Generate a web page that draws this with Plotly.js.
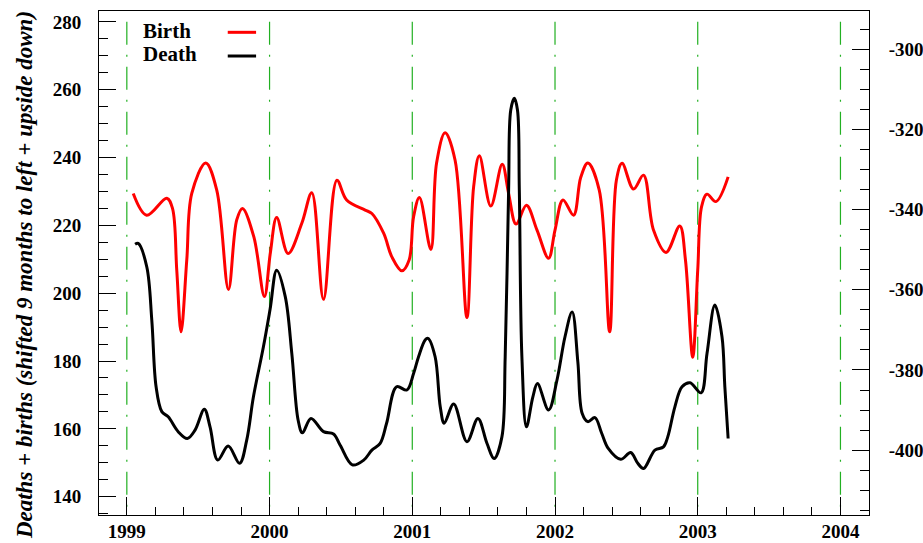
<!DOCTYPE html>
<html>
<head>
<meta charset="utf-8">
<script src="https://cdn.plot.ly/plotly-3.0.1.min.js"></script>
<style>html,body{margin:0;padding:0;background:#fff;}#chart{width:923px;height:543px;}</style>
</head>
<body>
<div id="chart"></div>
<script>
// Birth curve (left axis), x in years
const birthX = [1999.045,1999.139,1999.28,1999.32,1999.35,1999.38,1999.42,1999.455,1999.553,1999.63,1999.712,1999.77,1999.81,1999.89,1999.964,2000.005,2000.05,2000.13,2000.226,2000.296,2000.378,2000.472,2000.54,2000.67,2000.717,2000.80,2000.857,2000.927,2000.978,2001.009,2001.05,2001.13,2001.17,2001.23,2001.30,2001.383,2001.43,2001.47,2001.55,2001.63,2001.675,2001.727,2001.80,2001.874,2001.955,2002.0,2002.056,2002.13,2002.18,2002.23,2002.31,2002.383,2002.43,2002.47,2002.55,2002.62,2002.69,2002.778,2002.874,2002.914,2002.965,2003.0,2003.027,2003.065,2003.127,2003.213];
const birthY = [229.4,223.0,228.0,225.0,206.7,188.6,209.8,229.4,238.4,230.4,201.1,221.6,225.0,216.6,199.0,211.7,222.3,211.7,220.6,229.6,198.2,233.3,227.5,224.5,223.5,217.6,210.7,206.6,209.8,222.5,228.2,212.9,238.3,247.3,239.2,192.8,231.4,240.5,225.7,238.0,229.4,220.4,225.9,218.6,210.3,218.6,227.5,223.0,234.1,238.4,230.4,188.6,233.3,238.3,230.7,234.8,218.6,212.0,219.8,209.8,181.1,206.8,225.5,229.2,227.0,234.3];

// Death curve (right axis, upside down)
const deathX = [1999.058,1999.08,1999.14,1999.175,1999.205,1999.245,1999.29,1999.36,1999.424,1999.478,1999.543,1999.583,1999.637,1999.71,1999.79,1999.84,1999.887,1999.957,2000.004,2000.05,2000.11,2000.156,2000.20,2000.23,2000.29,2000.378,2000.448,2000.495,2000.58,2000.66,2000.717,2000.775,2000.82,2000.89,2000.962,2001.009,2001.044,2001.09,2001.11,2001.16,2001.196,2001.224,2001.29,2001.383,2001.46,2001.523,2001.574,2001.628,2001.651,2001.675,2001.69,2001.715,2001.737,2001.75,2001.768,2001.80,2001.845,2001.877,2001.955,2002.014,2002.07,2002.12,2002.16,2002.19,2002.23,2002.28,2002.327,2002.373,2002.46,2002.53,2002.58,2002.62,2002.70,2002.76,2002.79,2002.84,2002.89,2002.946,2003.023,2003.065,2003.12,2003.17,2003.19,2003.213];
const deathY = [-348.6,-348.4,-354.3,-367.6,-384.2,-390.4,-391.7,-395.4,-397.1,-395.0,-389.8,-394.2,-402.5,-399.0,-403.3,-397.5,-386.7,-374.2,-364.8,-355.1,-361.7,-375.9,-392.5,-395.7,-392.1,-395.4,-396.0,-398.8,-403.7,-402.5,-400.0,-398.3,-393.3,-384.2,-385.0,-380.9,-376.7,-372.5,-372.1,-376.7,-389.2,-393.3,-388.5,-397.9,-392.1,-398.3,-402.1,-396.7,-376.7,-335.1,-315.1,-312.2,-315.1,-335.1,-376.7,-394.2,-386.7,-383.4,-390.0,-382.5,-371.7,-365.5,-378.0,-390.8,-392.9,-391.9,-395.8,-399.6,-402.3,-400.6,-403.3,-404.6,-400.0,-399.2,-396.7,-389.2,-384.2,-383.2,-385.7,-375.9,-363.8,-371.7,-384.2,-397.1];

const yearLines = [1999,2000,2001,2002,2003,2004];
const xTicks = [1999,2000,2001,2002,2003,2004];
const yTicks = [140,160,180,200,220,240,260,280];
const y2Ticks = [-300,-320,-340,-360,-380,-400];
const y2Labels = ["-300","-320","-340","-360","-380","-400"];
const legendNames = ["Birth","Death"];

const FONT = 'Liberation Serif, Times New Roman, serif';

const traces = [
  {x: birthX, y: birthY, type:'scatter', mode:'lines', line:{color:'#ff0000', width:3, shape:'spline', smoothing:1}, yaxis:'y', hoverinfo:'skip'},
  {x: deathX, y: deathY, type:'scatter', mode:'lines', line:{color:'#000000', width:3, shape:'spline', smoothing:1}, yaxis:'y2', hoverinfo:'skip'}
];

const shapes = yearLines.map(v => ({
  type:'line', xref:'x', yref:'y', x0:v, x1:v, y0:280, y1:134.6,
  line:{color:'#22b022', width:1.2, dash:'23px,10px,2px,10px'}, layer:'below'
}));
shapes.push({type:'line', xref:'paper', yref:'paper', x0:0.1672, x1:0.204, y0:0.9577, y1:0.9577, line:{color:'#ff0000', width:3}});
shapes.push({type:'line', xref:'paper', yref:'paper', x0:0.1672, x1:0.204, y0:0.9107, y1:0.9107, line:{color:'#000000', width:3}});

const annotations = [
  {xref:'paper', yref:'paper', x:0.0545, y:0.961, xanchor:'left', yanchor:'middle', showarrow:false, text:legendNames[0], font:{family:FONT, size:21, weight:'bold', color:'#000'}},
  {xref:'paper', yref:'paper', x:0.0545, y:0.9137, xanchor:'left', yanchor:'middle', showarrow:false, text:legendNames[1], font:{family:FONT, size:21, weight:'bold', color:'#000'}},
  {xref:'paper', yref:'paper', x:-0.0974, y:0.476, xanchor:'center', yanchor:'middle', textangle:-90, showarrow:false,
   text:'Deaths + births (shifted 9 months to left + upside down)', font:{family:FONT, size:23, weight:'bold', style:'italic', color:'#000'}}
];

const tickFont = {family:FONT, size:19, weight:'bold', color:'#000'};

const layout = {
  width:923, height:543,
  margin:{l:99, r:54, t:11, b:28, pad:0},
  paper_bgcolor:'#fff', plot_bgcolor:'#fff',
  showlegend:false,
  xaxis:{range:[1998.805,2004.2], tickmode:'array', tickvals:xTicks, ticktext:xTicks.map(String),
    ticks:'inside', ticklen:18, tickcolor:'#000', tickwidth:1,
    minor:{dtick:0.2, tick0:1999, ticks:'inside', ticklen:8, tickcolor:'#000', tickwidth:1},
    showline:true, linecolor:'#000', linewidth:1, mirror:true, showgrid:false, zeroline:false,
    tickfont:tickFont, ticklabelstandoff:-1},
  yaxis:{range:[134.6,283.2], tickmode:'array', tickvals:yTicks, ticktext:yTicks.map(String),
    ticks:'inside', ticklen:17, tickcolor:'#000', tickwidth:1,
    minor:{dtick:5, tick0:0, ticks:'inside', ticklen:9, tickcolor:'#000', tickwidth:1},
    showline:true, linecolor:'#000', linewidth:1, mirror:true, showgrid:false, zeroline:false,
    tickfont:tickFont, ticklabelstandoff:13},
  yaxis2:{range:[-416.2,-290.4], overlaying:'y', side:'right', tickmode:'array', tickvals:y2Ticks, ticktext:y2Labels,
    ticks:'inside', ticklen:17, tickcolor:'#000', tickwidth:1,
    minor:{dtick:5, tick0:0, ticks:'inside', ticklen:9, tickcolor:'#000', tickwidth:1},
    showline:true, linecolor:'#000', linewidth:1, showgrid:false, zeroline:false,
    tickfont:tickFont, ticklabelstandoff:15},
  shapes:shapes,
  annotations:annotations
};

Plotly.newPlot('chart', traces, layout, {staticPlot:true, displayModeBar:false});
</script>
</body>
</html>
